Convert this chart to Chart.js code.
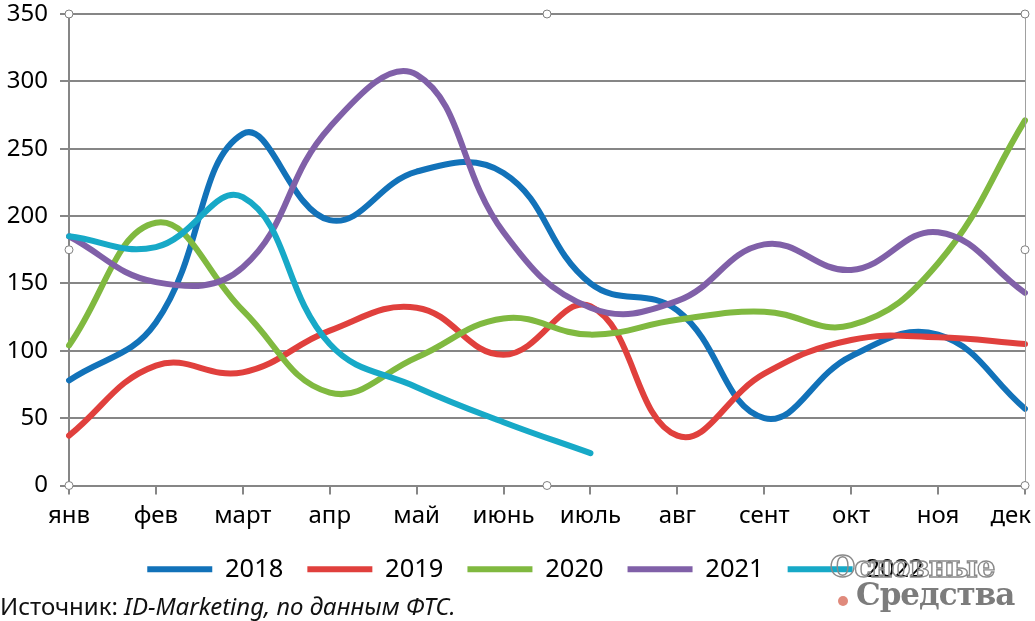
<!DOCTYPE html>
<html>
<head>
<meta charset="utf-8">
<script src="https://cdn.jsdelivr.net/npm/chart.js@4/dist/chart.umd.min.js"></script>
<style>
  body{margin:0;background:#fff;}
  #wrap{position:relative;width:1035px;height:621px;overflow:hidden;}
  #src{position:absolute;left:0;top:589px;font:24px 'Noto Sans',sans-serif;color:#111;white-space:nowrap;}
  .wm1{position:absolute;left:830px;top:550px;font:bold 29px 'DejaVu Serif',serif;color:transparent;-webkit-text-stroke:1.4px #8a8a8a;letter-spacing:-1px;}
  .wm2{position:absolute;left:856px;top:576px;font:bold 31px 'DejaVu Serif',serif;color:#7c7c7c;letter-spacing:-1px;}
  .dot{position:absolute;left:838px;top:596px;width:10px;height:10px;border-radius:50%;background:#e08a7c;}
</style>
</head>
<body>
<div id="wrap">
  <canvas id="chart" width="1035" height="621"></canvas>
  <div id="src">Источник: <i>ID-Marketing, по данным ФТС.</i></div>
  <div class="wm1">Основные</div>
  <div class="dot"></div>
  <div class="wm2">Средства</div>
</div>
<script>
const months=['янв','фев','март','апр','май','июнь','июль','авг','сент','окт','ноя','дек'];
const years=['2018','2019','2020','2021','2022'];
const v2018=[78,121,261,197,233,232,150,130,50,96,112,57];
const v2019=[37,89,84,115,132,97,133,37,83,108,110,105];
const v2020=[104,195,130,69,95,124,112,123,129,119,165,271];
const v2021=[185,151,162,266,305,188,132,137,179,160,188,143];
const v2022=[185,177,214,105,73,47,24];
const colors=['#1272b9','#e0403d','#80b940','#8060a8','#17a9c7'];
const yTicks=[0,50,100,150,200,250,300,350];

const FONT="'Noto Sans', sans-serif";
const series=[v2018,v2019,v2020,v2021,v2022];

// excel-ish selection handles and frame
const handles={
  id:'handles',
  afterLayout(chart){
    // legend in the picture sits a bit right of centre
    chart.legend.left+=36;
  },
  beforeDraw(chart){
    // keep the last month label inside the canvas
    const sx=chart.scales.x;
    const items=sx.getLabelItems();
    const last=items[items.length-1];
    if(last){
      chart.ctx.font='24px '+FONT;
      const w=chart.ctx.measureText(last.label).width;
      last.options.translation[0]=Math.min(last.options.translation[0],chart.width-w/2-4);
    }
  },
  afterDraw(chart){
    const {ctx,chartArea:a}=chart;
    ctx.save();
    ctx.strokeStyle='#a0a0a0';
    ctx.lineWidth=1;
    ctx.beginPath();
    ctx.moveTo(a.right+0.5,a.top);ctx.lineTo(a.right+0.5,a.bottom);
    ctx.stroke();
    const mx=(a.left+a.right)/2,my=(a.top+a.bottom)/2;
    const pts=[[a.left,a.top],[mx,a.top],[a.right,a.top],[a.left,my],[a.right,my],[a.left,a.bottom],[mx,a.bottom],[a.right,a.bottom]];
    pts.forEach(p=>{
      ctx.beginPath();
      ctx.arc(p[0],p[1],4,0,Math.PI*2);
      ctx.fillStyle='#fff';ctx.fill();
      ctx.strokeStyle='#808080';ctx.stroke();
    });
    ctx.restore();
  }
};

const datasets=series.map((d,i)=>({
  label:years[i],
  data:d,
  borderColor:colors[i],
  backgroundColor:colors[i],
  borderWidth:6,
  borderCapStyle:'round',
  tension:0.42,
  pointRadius:0,
  order:series.length-i,
  fill:false
}));

new Chart(document.getElementById('chart'),{
  type:'line',
  data:{labels:months,datasets:datasets},
  plugins:[handles],
  options:{
    responsive:false,
    animation:false,
    layout:{padding:{top:0,bottom:29,left:0,right:0}},
    plugins:{
      tooltip:{enabled:false},
      legend:{
        position:'bottom',
        labels:{
          usePointStyle:true,
          pointStyle:'line',
          pointStyleWidth:65,
          padding:24,
          color:'#000',
          font:{family:FONT,size:25.5},
          sort:(a,b)=>a.datasetIndex-b.datasetIndex
        }
      }
    },
    scales:{
      x:{
        grid:{drawOnChartArea:false,drawTicks:true,tickLength:9,color:'#868686',lineWidth:2},
        border:{color:'#868686',width:2},
        ticks:{color:'#000',font:{family:FONT,size:24},padding:7,maxRotation:0,autoSkip:false},
        afterFit(s){s.height=47;s.paddingRight=10;s.paddingLeft=0;}
      },
      y:{
        min:0,max:350,
        grid:{color:'#868686',lineWidth:2,tickLength:9},
        border:{color:'#868686',width:2},
        afterBuildTicks(s){s.ticks=yTicks.map(v=>({value:v}));},
        ticks:{color:'#000',font:{family:FONT,size:24},padding:12},
        afterFit(s){s.width=69;s.paddingTop=14;s.paddingBottom=0;}
      }
    }
  }
});
</script>
</body>
</html>
